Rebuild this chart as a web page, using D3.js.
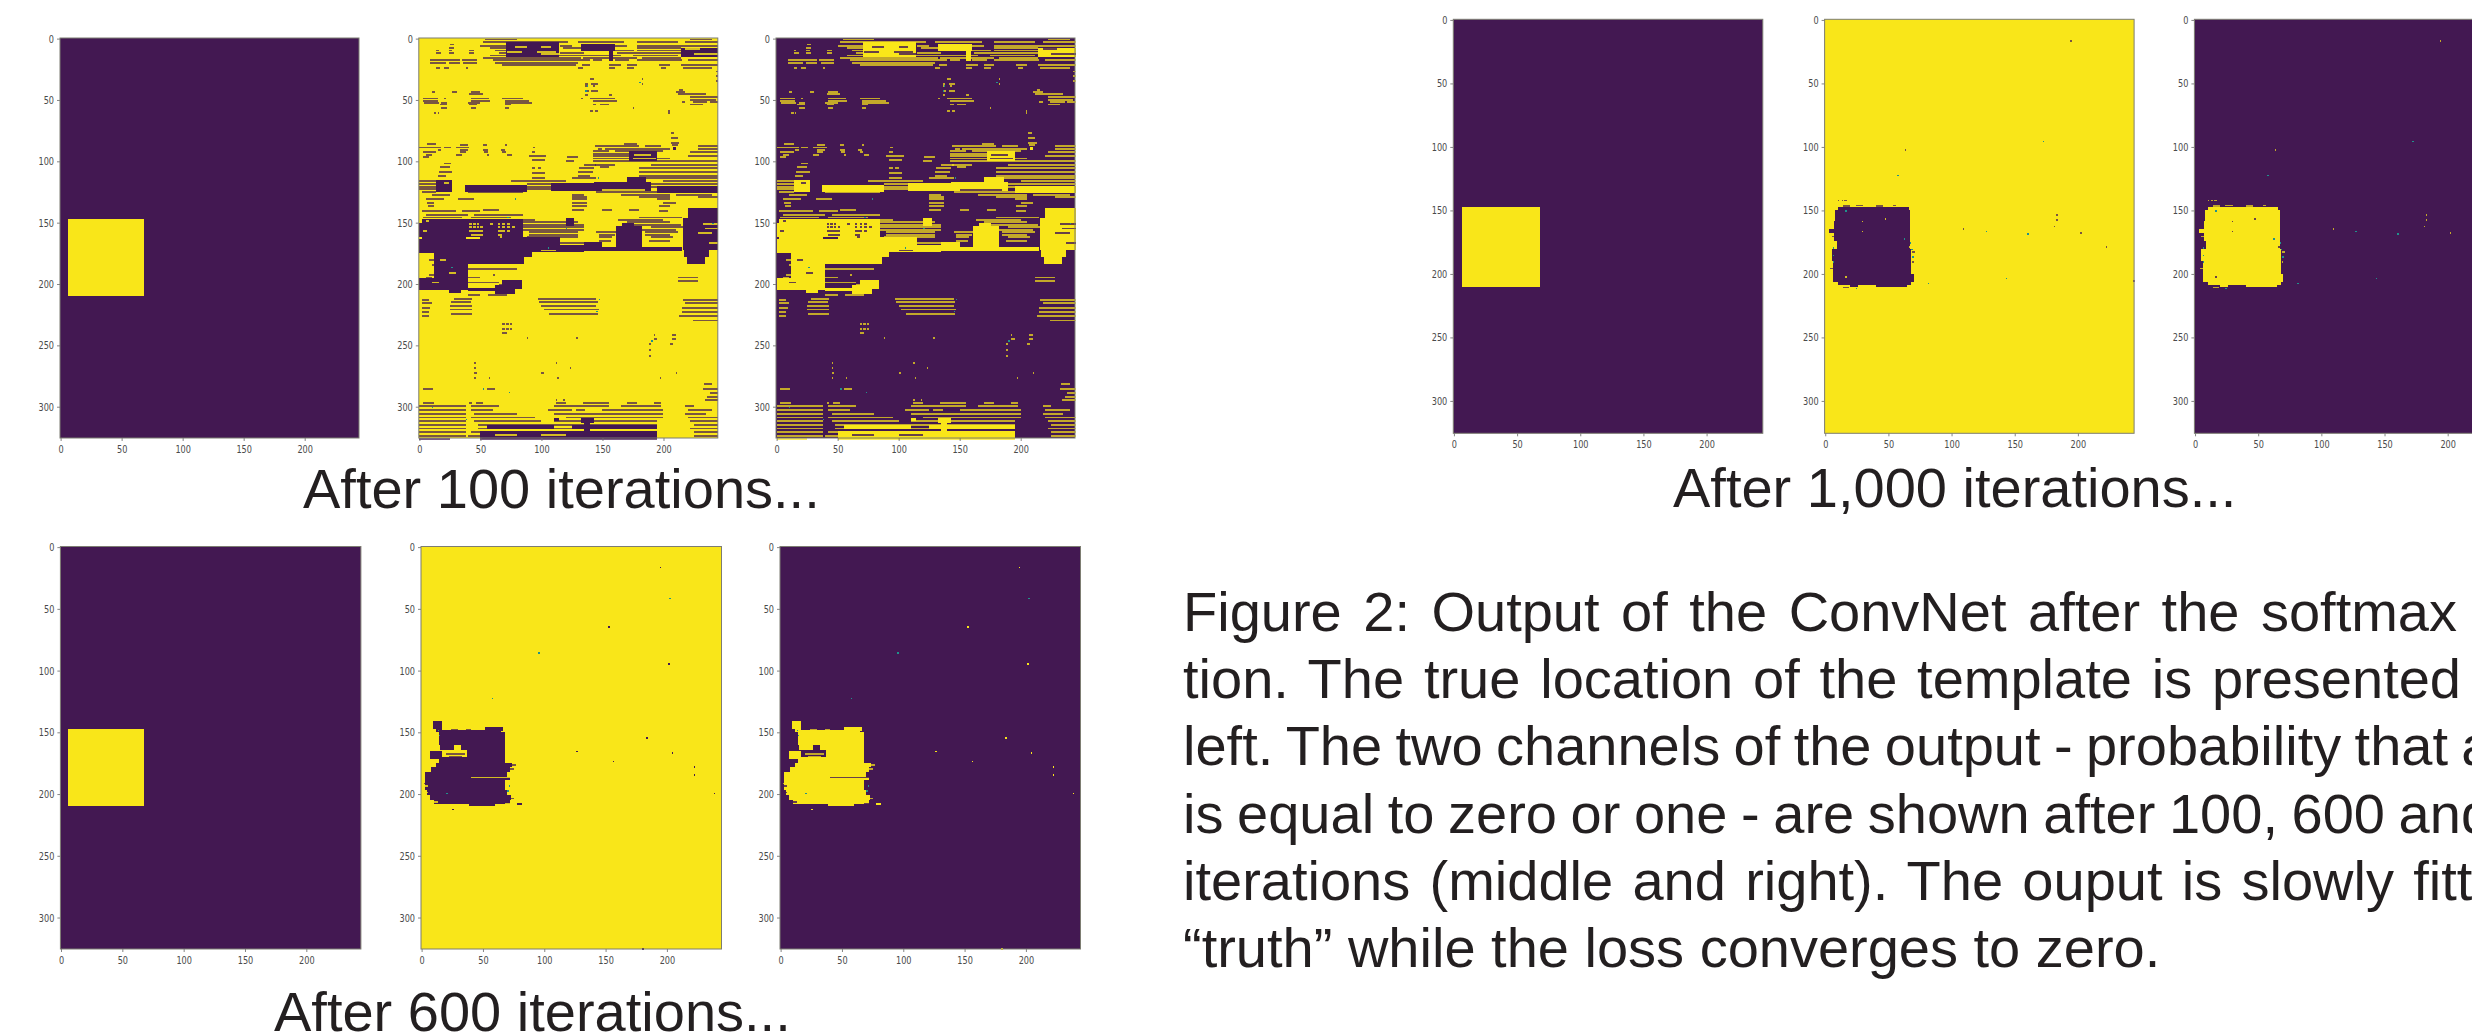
<!DOCTYPE html>
<html>
<head>
<meta charset="utf-8">
<script src="https://cdn.jsdelivr.net/npm/d3@7"></script>
<style>
  html, body { margin: 0; padding: 0; background: #fff; overflow: hidden; }
  svg { display: block; }
  .tick text { font-family: "DejaVu Sans", sans-serif; font-size: 11px; fill: #4a4a4a; }
  .tick line { stroke: #666; stroke-width: 0.8; }
  .big { font-family: "Liberation Sans", Arial, sans-serif; font-size: 56px; fill: #231f20; }
  .cell { shape-rendering: crispEdges; }
</style>
</head>
<body>
<script>
// image size of every panel, in pixels of the network output
const imageWidth = 245;
const imageHeight = 326;
const xTickValues = [0, 50, 100, 150, 200];
const yTickValues = [0, 50, 100, 150, 200, 250, 300];

// true template location: [y0, y1, x0, x1]
const truthBlock = [[147, 210, 6, 68]];

// ---- after 100 iterations, first output channel ----
// solid dark regions: [y0, y1, x0, x1]
const blocks100 = [
  [3, 15, 71, 114], [4, 10, 132, 160], [10, 18, 155, 159], [8, 15, 214, 245],
  [88, 91, 208, 210], [92, 100, 172, 195],
  [115, 125, 14, 27], [119, 125, 37, 88], [118, 124, 108, 143], [117, 124, 143, 190],
  [113, 120, 170, 186], [120, 126, 195, 245],
  [146, 153, 120, 127],
  [147, 172, 2, 38], [150, 162, 0, 38], [163, 175, 0, 50], [147, 162, 38, 85], [165, 176, 38, 88],
  [162, 172, 50, 115], [168, 174, 88, 135], [166, 173, 135, 150], [170, 173, 145, 215],
  [153, 173, 161, 182], [150, 155, 166, 176],
  [138, 172, 220, 245], [146, 172, 216, 222], [172, 178, 217, 237], [178, 184, 219, 234],
  [172, 178, 84, 92], [176, 184, 40, 86], [172, 205, 12, 40], [195, 205, 0, 40],
  [205, 207, 24, 34], [197, 204, 68, 84], [201, 208, 62, 78], [203, 206, 40, 62],
  [315, 318, 55, 110], [315, 318, 125, 195], [320, 326, 50, 195], [309, 312, 110, 114],
  [309, 313, 132, 143], [313, 322, 135, 140]
];
// thin dark row stripes: [y, x0, x1, x0, x1, ...]
const stripes100 = [
  [0, 54, 80, 222, 240], [2, 52, 122, 130, 168, 178, 212, 218, 245], [5, 50, 72, 115, 125, 132, 170, 178, 245],
  [7, 58, 72, 118, 132, 178, 214], [9, 62, 72, 160, 176, 178, 214], [11, 65, 72, 115, 135, 162, 215],
  [13, 58, 72, 112, 165, 175, 212], [15, 52, 132, 134, 178, 182, 214],
  [17, 9, 33, 35, 47, 60, 140, 142, 150, 160, 172, 178, 215, 220, 245], [19, 9, 22, 24, 33, 36, 47, 62, 130],
  [20.5, 68, 128, 133, 140, 155, 165, 170, 178, 196, 205, 214, 245], [23, 14, 17, 20, 24, 38, 40, 130, 134, 155, 160, 170, 176, 198, 202, 216, 240],
  [4, 25, 28], [7, 24, 28], [9, 14, 16, 24, 27, 41, 45], [11, 14, 18, 24, 28, 41, 45], [26, 243, 245], [30, 243, 245], [34, 243, 245],
  [32, 140, 143, 182, 183], [36, 136, 138, 141, 146, 182, 183], [38, 136, 138, 142, 144], [42, 137, 139, 141, 146],
  [42.5, 10, 13, 27, 31, 42, 50], [41, 213, 216], [43, 210, 218], [44.5, 41, 52, 212, 235], [45, 136, 138, 155, 158],
  [47, 222, 245], [48, 3, 15, 20, 22, 42, 57, 68, 85, 132, 134, 140, 160], [49, 222, 243],
  [50, 3, 15, 42, 58, 70, 90, 142, 162], [51, 215, 218, 224, 236, 238, 245], [51.5, 4, 16, 18, 23, 40, 50, 70, 92],
  [53, 17, 23, 41, 47, 70, 75, 142, 145, 148, 155, 222, 232], [55.5, 18, 23, 42, 46, 70, 73, 175, 176], [58, 140, 142, 144, 146, 204, 205], [60, 12, 14, 15, 16, 204, 205],
  [76, 206, 209], [80, 206, 212], [84, 206, 213], [86, 33, 40, 52, 55, 70, 72, 207, 212],
  [85, 6, 14, 168, 178], [87, 144, 180, 185, 198, 228, 245], [88, 0, 18, 20, 26, 30, 41, 93, 95],
  [89, 146, 150, 152, 205, 228, 245], [90, 15, 18, 33, 40, 52, 56, 67, 70], [91, 142, 155, 160, 200],
  [92, 3, 14, 33, 38, 53, 56, 68, 71, 92, 95, 222, 245], [93, 142, 185], [94, 5, 10, 30, 35, 55, 57, 72, 76],
  [95, 90, 104, 142, 190, 220, 245], [96, 3, 8, 121, 130], [97, 142, 205], [98, 92, 103], [99, 120, 127, 142, 200, 200, 245],
  [101, 20, 26], [102, 144, 160, 190, 245], [102.5, 135, 145], [104, 17, 25, 148, 155], [105, 92, 95, 97, 100, 131, 143, 180, 245],
  [108, 16, 27, 130, 142, 180, 245], [109, 92, 103], [111, 15, 22, 130, 140, 180, 245], [113, 92, 103, 125, 145, 180, 245],
  [115.5, 0, 20, 75, 120, 200, 245], [118, 0, 14, 88, 108, 190, 245], [120, 0, 14, 88, 108, 190, 195],
  [122, 0, 15, 88, 112], [124.5, 2, 14, 40, 85, 145, 230], [126.5, 10, 25, 125, 135, 165, 205, 210, 240],
  [128.5, 125, 137, 180, 205, 228, 245], [130, 5, 20, 32, 45, 125, 137, 195, 205], [133, 6, 12, 125, 137, 200, 210],
  [136, 7, 12, 125, 137, 196, 205], [139, 52, 65, 125, 135, 150, 158, 172, 180], [140, 2, 30, 35, 50, 196, 204],
  [143, 5, 40, 45, 85], [145, 3, 35, 42, 75, 180, 215], [147, 85, 95, 163, 200], [149, 85, 130, 170, 205],
  [151, 85, 135, 175, 214], [153, 85, 135, 190, 220], [155, 85, 135, 180, 210],
  [157, 90, 130, 145, 165, 185, 212], [159, 90, 130, 147, 160, 185, 205], [161, 88, 130, 147, 158, 190, 208],
  [164, 90, 115, 147, 157, 188, 205], [166, 100, 135, 140, 150],
  [180, 8, 14], [184, 10, 15], [187, 40, 80], [192, 8, 20, 60, 62], [194, 5, 10, 40, 50, 212, 228], [197, 212, 228],
  [198, 40, 65, 76, 84], [200, 2, 12, 65, 75], [208, 40, 50, 56, 72],
  [211.5, 28, 43, 97, 145], [212, 2, 8, 216, 245], [214, 26, 42, 98, 146], [215, 2, 10, 218, 245], [217, 25, 43, 100, 145],
  [219, 2, 9, 215, 245], [220, 25, 43, 102, 147], [222, 2, 8, 215, 245], [223.5, 26, 43, 106, 146], [225, 2, 8, 213, 245], [229, 224, 245],
  [232, 68, 70, 71, 73, 74, 76], [236, 68, 70, 71, 73, 74, 76], [239, 68, 72], [241, 192, 193, 207, 210], [243, 88, 89, 128, 130], [244, 192, 195, 207, 210],
  [248, 188, 190, 205, 208], [253, 188, 190], [258, 188, 190],
  [263.5, 45, 46, 112, 113], [268, 123, 124, 45, 46], [272, 45, 47, 100, 102, 210, 211], [276, 45, 46, 57, 58, 113, 114, 197, 198], [281, 233, 240], [285, 3, 11, 55, 62, 232, 245], [288, 238, 245], [291, 236, 245],
  [294, 112, 113, 118, 119, 234, 245], [296, 3, 12, 41, 43, 46, 52, 112, 120, 134, 155, 170, 178, 192, 198],
  [299, 0, 38, 42, 65, 110, 155, 165, 198, 218, 225], [302, 0, 38, 42, 60, 105, 125, 128, 136, 150, 200, 220, 240],
  [305, 0, 38, 45, 80, 110, 200, 218, 235], [308, 0, 38, 42, 95, 120, 200, 220, 245], [311, 0, 38, 45, 100, 110, 195, 222, 245],
  [314, 0, 38, 48, 195, 225, 245], [317, 0, 38, 48, 195, 222, 245], [320, 0, 38, 42, 195, 225, 245],
  [323, 0, 38, 40, 195, 225, 245], [325.5, 0, 25, 50, 195]
];
// yellow slits left inside the dark regions: [y, x0, x1, x0, x1, ...]
const slits100 = [
  [6, 78, 88, 100, 108], [10, 72, 84, 96, 112], [12, 100, 114], [8, 218, 230], [12, 225, 245],
  [94, 176, 190], [97, 175, 194], [122.5, 150, 185], [117, 20, 24],
  [150, 41, 43, 44, 46, 47, 49, 58, 60, 64, 66, 68, 70, 72, 74], [153, 41, 43, 44, 46, 47, 49, 50, 52, 64, 66, 68, 70, 72, 74, 76, 78],
  [156, 3, 6, 41, 52, 64, 70, 72, 74], [159, 42, 52, 64, 68], [161, 66, 68],
  [158, 228, 240], [150, 232, 245], [154, 234, 245], [148, 5, 8],
  [172, 100, 112], [180, 17, 22], [190, 24, 30], [198, 10, 16], [166, 237, 245], [322, 62, 80, 100, 120]
];
// isolated soft specks: [y, x]
const teal100 = [
  [38, 137], [42, 136], [35, 180], [113, 146], [130, 78], [145, 72], [150, 240], [154, 120], [170, 105], [186, 26],
  [212, 147], [222, 145], [246, 190], [285, 52], [288, 73], [300, 10], [310, 38]
];

// ---- after 600 iterations ----
const blocks600 = [
  [141, 147, 9, 17], [147, 150, 12, 17], [148, 150, 17, 65], [146, 149, 52, 66], [150, 160, 14, 68],
  [160, 164, 32, 68], [160, 164, 15, 26], [164, 170, 37, 68], [165, 172, 7, 17], [170, 175, 14, 68],
  [175, 178, 12, 74], [178, 182, 8, 72], [182, 186, 3, 70], [186, 189, 3, 72], [189, 197, 3, 68],
  [197, 201, 4, 70], [201, 205, 7, 73], [205, 208, 10, 72], [208, 210, 39, 60], [207, 208.5, 78, 82]
];
const stripes600 = [[167, 20, 35], [169, 22, 33], [147, 24, 30, 36, 40], [176, 74, 77], [179, 72, 75], [191, 2, 4], [203, 73, 75]];
const slits600 = [[186, 40, 73], [163, 28, 32], [193, 3, 5], [198, 3, 5], [206, 10, 13], [207, 68, 72]];
const specks600 = [
  [16, 194], [64, 152], [94, 201], [154, 183], [165, 126], [166, 204], [173, 156], [177, 222], [178, 222],
  [184, 222], [199, 238], [204, 244], [325, 180], [212, 25]
];
const teal600 = [[41, 202], [122, 57], [85, 95], [148, 13], [152, 14], [197, 70], [193, 71], [199, 20]];

// ---- after 1,000 iterations ----
const blocks1000 = [
  [147, 150, 10, 66], [150, 158, 8, 67], [158, 165, 7, 67], [165, 168, 3, 67], [168, 174, 7, 67],
  [174, 180, 9, 67], [180, 190, 5, 68], [190, 200, 6, 68], [200, 206, 6, 70], [206, 209, 10, 68],
  [209, 210, 20, 26], [209, 210, 40, 65]
];
const stripes1000 = [
  [141.5, 10, 11, 13, 14, 15, 17], [145.5, 24, 30, 54, 56], [16, 194, 195], [102, 63, 64], [153, 183, 184], [157, 183, 184],
  [162, 181, 182], [164, 109, 110], [167, 202, 203], [178, 222, 223], [205, 244, 245], [182, 69, 71], [190, 69, 70],
  [146, 14, 20, 40, 46], [210, 14, 19], [195, 4, 6], [170, 5, 7]
];
const slits1000 = [[158, 29, 30], [166, 29, 30], [156, 47, 48], [202, 16, 17], [178, 66, 68], [209, 28, 36]];
const specks1000 = [];
const teal1000 = [
  [95, 172], [122, 57], [166, 127], [168, 160], [203, 143], [207, 81], [172, 62], [179, 6], [185, 6], [190, 6],
  [180, 68], [186, 69], [175, 67], [211, 24], [150, 16]
];

const figureCaptions = ["After 100 iterations...", "After 600 iterations...", "After 1,000 iterations..."];
const captionLines = [
  "Figure 2: Output of the ConvNet after the softmax",
  "tion. The true location of the template is presented",
  "left. The two channels of the output - probability that a",
  "is equal to zero or one - are shown after 100, 600 and",
  "iterations (middle and right). The ouput is slowly fitting",
  "\u201Ctruth\u201D while the loss converges to zero."
];
// part of each line that is stretched to a right edge, as in the justified original
const captionFitted = [
  "Figure 2: Output of the ConvNet after the softmax",
  "tion. The true location of the template is presented",
  "left. The two channels of the output - probability that",
  "is equal to zero or one - are shown after 100, 600",
  "iterations (middle and right). The ouput is slowly",
  null
];
const captionFitEnd = [2457, 2461, 2448, 2385, 2394, null];

// layout of the three figure rows
const rows = [
  { top: 38, bottom: 438, lefts: [60, 418.8, 776], width: 299, caption: 0, capX: 303, capY: 508, thick: 1.5,
    blocks: blocks100, stripes: stripes100, slits: slits100, specks: [], teal: teal100 },
  { top: 546.5, bottom: 949, lefts: [60.4, 421, 780], width: 300.5, caption: 1, capX: 274, capY: 1031, thick: 1.2,
    blocks: blocks600, stripes: stripes600, slits: slits600, specks: specks600, teal: teal600 },
  { top: 19.3, bottom: 433.3, lefts: [1453.3, 1824.6, 2194.4], width: 309.5, caption: 2, capX: 1673, capY: 507, thick: 1.2,
    blocks: blocks1000, stripes: stripes1000, slits: slits1000, specks: specks1000, teal: teal1000 }
];

const color = d3.scaleLinear().domain([0, 0.5, 1]).range(["#431852", "#21918c", "#f9e619"]);

const svg = d3.select("body").append("svg").attr("width", 2472).attr("height", 1035);

const soft = svg.append("defs").append("filter").attr("id", "soft")
  .attr("color-interpolation-filters", "sRGB")
  .attr("x", "-2%").attr("y", "-2%").attr("width", "104%").attr("height", "104%");
soft.append("feGaussianBlur").attr("stdDeviation", 0.7);

// turn the small arrays into one list of cells to draw
function blockCells(list, v) {
  return list.map(([y0, y1, x0, x1]) => ({ y0, y1, x0, x1, v, a: 1 }));
}
// single rows come out half mixed in the upscaled screenshot, hence a < 1
function stripeCells(list, thick, v, a) {
  return list.flatMap(([y, ...xs]) => d3.range(0, xs.length, 2)
    .map(i => ({ y0: y, y1: y + thick, x0: xs[i], x1: xs[i + 1], v, a })));
}
function speckCells(list, v) {
  return list.map(([y, x]) => ({ y0: y, y1: y + 1.2, x0: x, x1: x + 1.2, v, a: 1 }));
}

function drawPanel(row, col, cells, background, flip) {
  const left = row.lefts[col];
  const x = d3.scaleLinear().domain([-0.5, imageWidth - 0.5]).range([left, left + row.width]);
  const y = d3.scaleLinear().domain([-0.5, imageHeight - 0.5]).range([row.top, row.bottom]);
  const value = v => flip ? 1 - v : v;
  const g = svg.append("g");

  const img = g.append("g").attr("filter", "url(#soft)");
  img.append("rect")
    .attr("x", x.range()[0]).attr("y", y.range()[0])
    .attr("width", row.width).attr("height", row.bottom - row.top)
    .attr("fill", color(background));
  img.selectAll("rect.cell")
    .data(cells)
    .join("rect")
    .attr("class", "cell")
    .attr("x", d => x(d.x0))
    .attr("y", d => y(d.y0))
    .attr("width", d => x(d.x1) - x(d.x0))
    .attr("height", d => y(d.y1) - y(d.y0))
    .attr("fill", d => color(value(d.v)))
    .attr("fill-opacity", d => d.a);

  const xAxis = d3.axisBottom(x).tickValues(xTickValues).tickSize(3).tickPadding(4);
  const yAxis = d3.axisLeft(y).tickValues(yTickValues).tickSize(3).tickPadding(3);
  g.append("g").attr("transform", `translate(0,${row.bottom})`).call(xAxis).call(squeezeLabels);
  g.append("g").attr("transform", `translate(${left},0)`).call(yAxis).call(squeezeLabels);
  g.selectAll(".domain").remove();

  g.append("rect")
    .attr("x", left).attr("y", row.top)
    .attr("width", row.width).attr("height", row.bottom - row.top)
    .attr("fill", "none").attr("stroke", "#7d7d72").attr("stroke-width", 1);
}

// the screenshots were pasted narrower than they were tall
function squeezeLabels(axis) {
  axis.selectAll("text").each(function () {
    d3.select(this)
      .attr("textLength", this.getComputedTextLength() * 0.74)
      .attr("lengthAdjust", "spacingAndGlyphs");
  });
}

rows.forEach(row => {
  const cells = [
    ...blockCells(row.blocks, 0),
    ...stripeCells(row.stripes, row.thick, 0, 0.7),
    ...stripeCells(row.slits, row.thick, 1, 0.8),
    ...speckCells(row.specks, 0),
    ...speckCells(row.teal, 0.5)
  ];
  drawPanel(row, 0, blockCells(truthBlock, 1), 0, false);
  drawPanel(row, 1, cells, 1, false);
  drawPanel(row, 2, cells, 0, true);

  svg.append("text").attr("class", "big")
    .attr("x", row.capX).attr("y", row.capY)
    .text(figureCaptions[row.caption]);
});

// caption paragraph, justified per line
const captionLeft = 1183;
const captionY = d3.scaleLinear().domain([0, 5]).range([631, 967]);
captionLines.forEach((line, i) => {
  const t = svg.append("text").attr("class", "big").attr("x", captionLeft).attr("y", captionY(i));
  if (captionFitted[i]) {
    t.text(captionFitted[i]);
    const gaps = captionFitted[i].split(" ").length - 1;
    const spare = captionFitEnd[i] - captionLeft - t.node().getComputedTextLength();
    t.attr("word-spacing", spare / gaps);
  }
  t.text(line);
});
</script>
</body>
</html>
